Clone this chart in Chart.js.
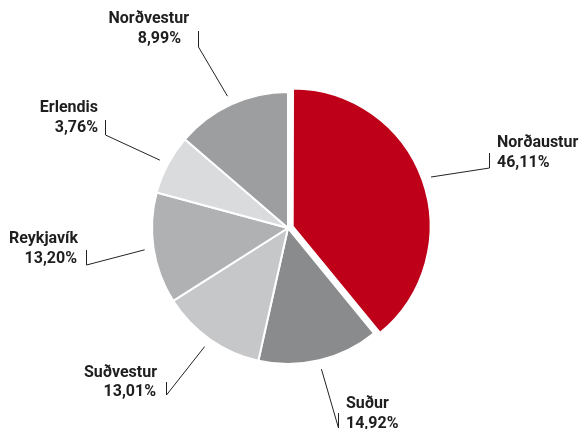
<!DOCTYPE html>
<html>
<head>
<meta charset="utf-8">
<script src="https://cdn.jsdelivr.net/npm/chart.js@4.4.1/dist/chart.umd.min.js"></script>
<style>
  html, body { margin: 0; padding: 0; background: #fff; }
  #wrap { width: 579px; height: 429px; position: relative; }
</style>
</head>
<body>
<div id="wrap"><canvas id="myChart" width="579" height="429"></canvas></div>
<script>
// regions, clockwise from 12 o'clock
const regions = ['Norðaustur', 'Suður', 'Suðvestur', 'Reykjavík', 'Erlendis', 'Norðvestur'];
// printed shares
const printedShares = ['46,11%', '14,92%', '13,01%', '13,20%', '3,76%', '8,99%'];
// slice sizes as they are drawn in the picture (percent of the circle)
const sliceShares = [39.1, 14.4, 12.5, 13.2, 7.1, 13.7];
const sliceColors = ['#be0019', '#8a8b8d', '#c6c7c9', '#b0b1b3', '#dadbdd', '#9d9ea0'];

// where each callout sits: tick x, tick top/bottom, text x for both lines, alignment, baselines
const callouts = [
  { tickX: 489, tickTop: 153, tickBottom: 168, nameX: 497, valueX: 497, align: 'left',  y1: 147, y2: 167 },
  { tickX: 338, tickTop: 413, tickBottom: 428, nameX: 346, valueX: 346, align: 'left',  y1: 408, y2: 428 },
  { tickX: 166, tickTop: 382, tickBottom: 395, nameX: 157, valueX: 156, align: 'right', y1: 377, y2: 396 },
  { tickX: 86,  tickTop: 250, tickBottom: 265, nameX: 78,  valueX: 77,  align: 'right', y1: 243, y2: 263 },
  { tickX: 105, tickTop: 120, tickBottom: 135, nameX: 98,  valueX: 98,  align: 'right', y1: 112, y2: 132 },
  { tickX: 198, tickTop: 31,  tickBottom: 47,  nameX: 189, valueX: 181, align: 'right', y1: 23,  y2: 43 }
];

const calloutPlugin = {
  id: 'callouts',
  afterDatasetsDraw(chart) {
    const ctx = chart.ctx;
    const arcs = chart.getDatasetMeta(0).data;
    ctx.save();
    ctx.strokeStyle = '#222';
    ctx.lineWidth = 1;
    ctx.fillStyle = '#1e1e1e';
    ctx.font = 'bold 16px Roboto, "Liberation Sans", sans-serif';
    ctx.textBaseline = 'alphabetic';
    arcs.forEach((arc, i) => {
      const c = callouts[i];
      const p = arc.getProps(['x', 'y', 'startAngle', 'endAngle', 'outerRadius'], true);
      const mid = (p.startAngle + p.endAngle) / 2;
      // same shift Chart.js applies to an offset arc
      const off = (arc.options.offset || 0) / 4;
      const fix = 1 - Math.sin(Math.min(Math.PI, p.endAngle - p.startAngle));
      const shift = off + off * fix;
      const r = p.outerRadius + 9 + shift;
      const sx = p.x + Math.cos(mid) * r;
      const sy = p.y + Math.sin(mid) * r;

      ctx.beginPath();
      ctx.moveTo(sx, sy);
      ctx.lineTo(c.tickX + 0.5, c.tickBottom);
      ctx.lineTo(c.tickX + 0.5, c.tickTop);
      ctx.stroke();

      ctx.textAlign = c.align;
      ctx.fillText(regions[i], c.nameX, c.y1);
      ctx.fillText(printedShares[i], c.valueX, c.y2);
    });
    ctx.restore();
  }
};

const ctx = document.getElementById('myChart');

new Chart(ctx, {
  type: 'pie',
  data: {
    labels: regions,
    datasets: [{
      data: sliceShares,
      backgroundColor: sliceColors,
      borderColor: '#ffffff',
      borderWidth: 2,
      offset: [20, 0, 0, 0, 0, 0]
    }]
  },
  options: {
    responsive: false,
    animation: false,
    events: [],
    radius: 136,
    layout: { padding: { left: 0, right: 3, top: 27, bottom: 0 } },
    plugins: {
      legend: { display: false },
      tooltip: { enabled: false }
    }
  },
  plugins: [calloutPlugin]
});
</script>
</body>
</html>
